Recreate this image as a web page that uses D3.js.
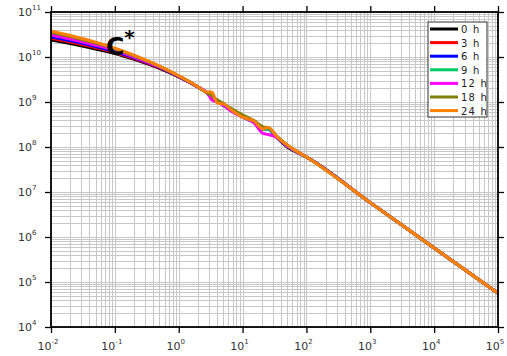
<!DOCTYPE html>
<html>
<head>
<meta charset="utf-8">
<script src="https://cdn.jsdelivr.net/npm/d3@7"></script>
<style>
  body { margin: 0; background: #fff; }
  svg { display: block; font-family: "DejaVu Sans", sans-serif; }
</style>
</head>
<body>
<svg id="chart" width="507" height="356"></svg>
<script>
// frequency points (x) shared by every series
var freq = [0.01, 0.02, 0.05, 0.1, 0.2, 0.5, 1, 2, 2.8, 3.3, 4, 5, 7, 10, 15, 21, 25, 35, 50, 66, 100, 1000, 10000, 100000];

var h0  = [2.40e10, 2.00e10, 1.51e10, 1.20e10, 8.9e9, 5.6e9, 3.63e9, 2.14e9, 1.58e9, 1.32e9, 1.07e9, 8.5e8, 6.5e8, 4.8e8, 3.70e8, 2.60e8, 2.60e8, 1.60e8, 1.00e8, 8.0e7, 6.0e7, 5.8e6, 5.7e5, 5.6e4];
var h3  = [2.60e10, 2.14e10, 1.61e10, 1.26e10, 9.2e9, 5.7e9, 3.66e9, 2.15e9, 1.58e9, 1.32e9, 1.07e9, 8.7e8, 6.3e8, 4.8e8, 3.70e8, 2.60e8, 2.60e8, 1.62e8, 1.05e8, 8.3e7, 6.0e7, 5.8e6, 5.7e5, 5.6e4];
var h6  = [2.82e10, 2.31e10, 1.71e10, 1.32e10, 9.6e9, 5.9e9, 3.70e9, 2.16e9, 1.58e9, 1.32e9, 1.07e9, 8.5e8, 6.2e8, 4.7e8, 3.60e8, 2.55e8, 2.50e8, 1.60e8, 1.05e8, 8.3e7, 6.0e7, 5.8e6, 5.7e5, 5.6e4];
var h9  = [3.31e10, 2.67e10, 1.93e10, 1.46e10, 1.03e10, 6.1e9, 3.78e9, 2.17e9, 1.58e9, 1.32e9, 1.05e9, 8.5e8, 6.3e8, 4.6e8, 3.50e8, 2.45e8, 2.50e8, 1.65e8, 1.05e8, 8.3e7, 6.0e7, 5.8e6, 5.7e5, 5.6e4];
var h12 = [3.09e10, 2.51e10, 1.83e10, 1.40e10, 1.00e10, 6.0e9, 3.74e9, 2.17e9, 1.58e9, 1.12e9, 1.00e9, 8.5e8, 6.0e8, 4.6e8, 3.50e8, 2.00e8, 1.90e8, 1.60e8, 1.05e8, 8.3e7, 6.0e7, 5.8e6, 5.7e5, 5.6e4];
var h18 = [3.55e10, 2.84e10, 2.03e10, 1.51e10, 1.06e10, 6.2e9, 3.80e9, 2.18e9, 1.58e9, 1.38e9, 1.12e9, 9.3e8, 6.9e8, 5.2e8, 3.90e8, 2.80e8, 2.70e8, 1.70e8, 1.12e8, 8.6e7, 6.0e7, 5.8e6, 5.7e5, 5.6e4];
var h24 = [3.80e10, 3.00e10, 2.14e10, 1.58e10, 1.10e10, 6.3e9, 3.84e9, 2.19e9, 1.66e9, 1.66e9, 9.5e8, 9.1e8, 6.3e8, 4.6e8, 3.80e8, 2.50e8, 2.75e8, 1.66e8, 1.10e8, 8.5e7, 6.0e7, 5.8e6, 5.7e5, 5.6e4];

var seriesNames  = ["0 h", "3 h", "6 h", "9 h", "12 h", "18 h", "24 h"];
var seriesValues = [h0, h3, h6, h9, h12, h18, h24];
var seriesColors = ["#000000", "#ff0000", "#0000ff", "#00cc66", "#ff00ff", "#808000", "#ff8000"];

var xDecades = [-2, -1, 0, 1, 2, 3, 4, 5];
var yDecades = [4, 5, 6, 7, 8, 9, 10, 11];

var svg = d3.select("#chart");
var pLeft = 51, pRight = 498, pTop = 12, pBottom = 327;

var x = d3.scaleLog().domain([1e-2, 1e5]).range([pLeft, pRight]);
var y = d3.scaleLog().domain([1e4, 1e11]).range([pBottom, pTop]);

function minors(decs){
  var out = [];
  decs.slice(0, -1).forEach(function(d){
    for (var k = 2; k <= 9; k++) out.push(k * Math.pow(10, d));
  });
  return out;
}
var xMajor = xDecades.map(function(d){ return Math.pow(10, d); });
var yMajor = yDecades.map(function(d){ return Math.pow(10, d); });
var xMinor = minors(xDecades);
var yMinor = minors(yDecades);

// grid
var grid = svg.append("g").attr("stroke", "#c8c8c8").attr("stroke-width", 1);
grid.selectAll("line.gx").data(xMajor.concat(xMinor)).enter().append("line")
  .attr("x1", function(d){ return Math.round(x(d)) + 0.5; })
  .attr("x2", function(d){ return Math.round(x(d)) + 0.5; })
  .attr("y1", pTop).attr("y2", pBottom);
grid.selectAll("line.gy").data(yMajor.concat(yMinor)).enter().append("line")
  .attr("y1", function(d){ return Math.round(y(d)) + 0.5; })
  .attr("y2", function(d){ return Math.round(y(d)) + 0.5; })
  .attr("x1", pLeft).attr("x2", pRight);

// curves
var line = d3.line()
  .x(function(d){ return x(d[0]); })
  .y(function(d){ return y(d[1]); })
  .curve(d3.curveMonotoneX);

svg.append("g").selectAll("path").data(seriesValues).enter().append("path")
  .attr("d", function(vals){ return line(freq.map(function(f, i){ return [f, vals[i]]; })); })
  .attr("fill", "none")
  .attr("stroke", function(d, i){ return seriesColors[i]; })
  .attr("stroke-width", 3)
  .attr("stroke-linejoin", "round");

// axes (frame with outward ticks on all sides)
function addAxis(axisFn, scale, transform, major, minor){
  var g = svg.append("g").attr("transform", transform);
  g.call(axisFn(scale).tickValues(minor).tickSize(3).tickFormat(""));
  g.call(axisFn(scale).tickValues(major).tickSize(6).tickFormat(""));
  g.selectAll("path").remove();
  g.selectAll("line").attr("stroke", "#000").attr("stroke-width", 1.3);
  return g;
}
addAxis(d3.axisBottom, x, "translate(0," + pBottom + ")", xMajor, xMinor);
addAxis(d3.axisTop, x, "translate(0," + pTop + ")", xMajor, xMinor);
addAxis(d3.axisLeft, y, "translate(" + pLeft + ",0)", yMajor, yMinor);
addAxis(d3.axisRight, y, "translate(" + pRight + ",0)", yMajor, yMinor);

svg.append("rect")
  .attr("x", pLeft).attr("y", pTop)
  .attr("width", pRight - pLeft).attr("height", pBottom - pTop)
  .attr("fill", "none").attr("stroke", "#000").attr("stroke-width", 1.8);

// tick labels 10^n
function powLabel(sel, n){
  sel.append("tspan").text("10");
  sel.append("tspan").attr("dy", -6).attr("font-size", 7).text(n);
}
svg.append("g").selectAll("text").data(xDecades).enter().append("text")
  .attr("x", function(d){ return x(Math.pow(10, d)) - 3; })
  .attr("y", 350)
  .attr("text-anchor", "middle")
  .attr("font-size", 11).attr("fill", "#333")
  .each(function(d){ powLabel(d3.select(this), d); });

svg.append("g").selectAll("text").data(yDecades).enter().append("text")
  .attr("x", 18)
  .attr("y", function(d){ return y(Math.pow(10, d)) + 4; })
  .attr("font-size", 11).attr("fill", "#333")
  .each(function(d){ powLabel(d3.select(this), d); });

// C* annotation
var ann = svg.append("text")
  .attr("x", 106).attr("y", 55)
  .attr("font-size", 25).attr("font-weight", "bold").attr("fill", "#000");
ann.append("tspan").text("C");
ann.append("tspan").attr("dy", -11).attr("font-size", 20).text("*");

// legend
var leg = svg.append("g").attr("transform", "translate(428,22)");
leg.append("rect").attr("width", 59).attr("height", 95)
  .attr("fill", "#fff").attr("stroke", "#333").attr("stroke-width", 1);
var rows = leg.selectAll("g").data(seriesNames).enter().append("g")
  .attr("transform", function(d, i){ return "translate(0," + (7 + i * 13.6) + ")"; });
rows.append("line").attr("x1", 2).attr("x2", 30)
  .attr("stroke", function(d, i){ return seriesColors[i]; })
  .attr("stroke-width", 3);
rows.append("text").attr("x", 33).attr("y", 4)
  .attr("font-size", 10).attr("fill", "#222").attr("letter-spacing", 1.2)
  .text(function(d){ return d; });
</script>
</body>
</html>
